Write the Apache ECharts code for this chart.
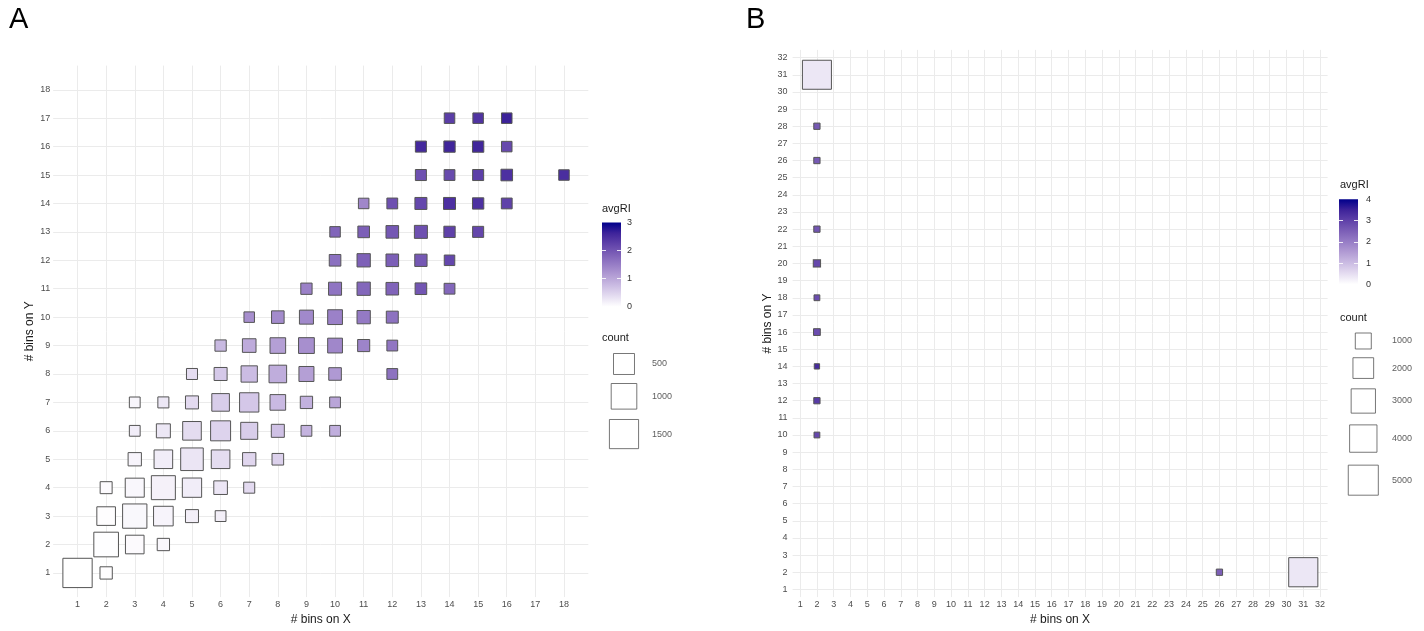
<!DOCTYPE html>
<html><head><meta charset="utf-8">
<script src="https://cdn.jsdelivr.net/npm/echarts@6/dist/echarts.min.js"></script>
<style>html,body{margin:0;padding:0;background:#fff}#c{width:1424px;height:631px}</style>
</head><body><div id="c"></div>
<script>
// ---------- Panel A data (one entry per square) ----------
const aX = [1,2, 2,3,4, 2,3,4,5,6, 2,3,4,5,6,7, 3,4,5,6,7,8, 3,4,5,6,7,8,9,10, 3,4,5,6,7,8,9,10,
  5,6,7,8,9,10,12, 6,7,8,9,10,11,12, 7,8,9,10,11,12, 9,10,11,12,13,14, 10,11,12,13,14,
  10,11,12,13,14,15, 11,12,13,14,15,16, 13,14,15,16,18, 13,14,15,16, 14,15,16];
const aY = [1,1, 2,2,2, 3,3,3,3,3, 4,4,4,4,4,4, 5,5,5,5,5,5, 6,6,6,6,6,6,6,6, 7,7,7,7,7,7,7,7,
  8,8,8,8,8,8,8, 9,9,9,9,9,9,9, 10,10,10,10,10,10, 11,11,11,11,11,11, 12,12,12,12,12,
  13,13,13,13,13,13, 14,14,14,14,14,14, 15,15,15,15,15, 16,16,16,16, 17,17,17];
const aCount = [1520,25, 880,310,25, 310,840,385,41,4, 19,340,805,360,58,6, 49,310,655,310,49,13,
  4,71,310,415,207,41,4,4, 4,6,41,243,360,135,25,4, 6,41,169,243,108,31,4, 9,58,135,144,100,21,4,
  2,31,71,100,49,19, 9,41,49,31,13,4, 13,49,31,25,2, 2,13,31,41,9,6, 2,4,19,19,9,4,
  6,4,6,13,2, 6,9,9,2, 2,2,2];
const aAvgRI = [0.00,0.02, 0.01,0.05,0.09, 0.02,0.08,0.12,0.18,0.18, 0.05,0.09,0.15,0.20,0.28,0.41,
  0.12,0.20,0.29,0.39,0.45,0.51, 0.20,0.27,0.39,0.49,0.56,0.69,0.86,0.91,
  0.11,0.27,0.41,0.56,0.62,0.78,0.88,1.02, 0.38,0.60,0.75,0.93,1.09,1.16,1.64,
  0.79,0.95,1.09,1.28,1.38,1.42,1.59, 1.28,1.33,1.36,1.45,1.54,1.64,
  1.45,1.61,1.78,1.82,1.99,1.78, 1.66,1.85,1.87,1.96,2.18, 1.80,1.87,1.96,2.06,2.25,2.19,
  1.38,2.06,2.18,2.46,2.45,2.25, 2.06,2.13,2.28,2.46,2.49, 2.55,2.60,2.59,2.15, 2.29,2.42,2.64];
const aAxisLimits = [0.15, 18.85];
const aLegendCounts = [500, 1000, 1500];
const aColorLimits = [0, 3];

// ---------- Panel B data ----------
const bX = [2,2,2,2,2,2,2,2,2,2,26,31];
const bY = [31,28,26,22,20,18,16,14,12,10,2,2];
const bCount = [4600,22,22,22,56,11,37,4,22,11,22,4650];
const bAvgRI = [0.36,2.6,2.6,2.67,2.9,2.8,2.8,3.37,3.1,2.9,2.5,0.36];
const bAxisLimits = [0.55, 32.45];
const bLegendCounts = [1000, 2000, 3000, 4000, 5000];
const bColorLimits = [0, 4];

// ---------- styles ----------
const FONT = "'Liberation Sans', Arial, sans-serif";
const RAMP = ['#ffffff','#e5ddf1','#cbbce3','#b29cd4','#977dc6','#7c5fb7','#5f41a9','#3e239a','#00008b'];
const BORDER = '#555555';
const GRIDLINE = '#ebebeb';
const sizeA = c => 9.8 + 0.5 * Math.sqrt(c);
const sizeB = c => 4.6 + 0.36 * Math.sqrt(c);

const zip = (xs, ys, cs, rs) => xs.map((x, i) => [x, ys[i], cs[i], rs[i]]);
function keyOffsets(counts, sizeFn, factor) {
  const s = counts.map(c => sizeFn(c) + 1);
  const out = [0];
  for (let i = 1; i < s.length; i++) out.push(out[i - 1] + factor * (s[i - 1] + s[i]) / 2);
  return out;
}
const gradient = () => ({type:'linear', x:0, y:0, x2:0, y2:1,
  colorStops: RAMP.slice().reverse().map((c, i, arr) => ({offset: i / (arr.length - 1), color: c}))});

function mainX(gi, lim, name, gap) {
  return {gridIndex: gi, type:'value', min: lim[0], max: lim[1], splitNumber: 40, minInterval: 1, maxInterval: 1,
    axisLine:{show:false}, axisTick:{show:false},
    splitLine:{show:true, showMinLine:false, showMaxLine:false, lineStyle:{color:GRIDLINE, width:1}},
    axisLabel:{fontSize:9, color:'#4d4d4d', fontFamily:FONT, margin:3, showMinLabel:false, showMaxLabel:false},
    name, nameLocation:'middle', nameGap: gap, nameTextStyle:{fontSize:12, color:'#1a1a1a', fontFamily:FONT}};
}
function mainY(gi, lim, name, gap, margin) {
  const o = mainX(gi, lim, name, gap);
  o.axisLabel.margin = margin;
  o.nameRotate = 90;
  return o;
}
function hiddenAxis(gi, max, inverse) {
  return {gridIndex: gi, type:'value', min:0, max, show:false, inverse: !!inverse};
}
function colorbarX(gi) { return {gridIndex: gi, type:'category', data:[''], show:false}; }
function colorbarY(gi, lim, margin) {
  return {gridIndex: gi, type:'value', min: lim[0], max: lim[1], interval: 1, position:'right', z: 3,
    axisLine:{show:false}, axisTick:{show:false},
    splitLine:{show:true, showMinLine:false, showMaxLine:false, lineStyle:{color:'rgba(255,255,255,0.85)', width:1, type:[4,11]}},
    axisLabel:{fontSize:9, color:'#333', fontFamily:FONT, margin}};
}

const aOff = keyOffsets(aLegendCounts, sizeA, 1.33);
const bOff = keyOffsets(bLegendCounts, sizeB, 1.4);

const option = {
  animation: false,
  backgroundColor: '#ffffff',
  title: [
    {text:'A', left: 9, top: 5, padding: 0, textStyle:{fontSize:29, fontWeight:'normal', color:'#000', fontFamily:FONT}},
    {text:'B', left: 746, top: 5, padding: 0, textStyle:{fontSize:29, fontWeight:'normal', color:'#000', fontFamily:FONT}},
    {text:'avgRI', left: 602, top: 203, padding: 0, textStyle:{fontSize:11, fontWeight:'normal', color:'#1a1a1a', fontFamily:FONT}},
    {text:'count', left: 602, top: 332, padding: 0, textStyle:{fontSize:11, fontWeight:'normal', color:'#1a1a1a', fontFamily:FONT}},
    {text:'avgRI', left: 1340, top: 179, padding: 0, textStyle:{fontSize:11, fontWeight:'normal', color:'#1a1a1a', fontFamily:FONT}},
    {text:'count', left: 1340, top: 312, padding: 0, textStyle:{fontSize:11, fontWeight:'normal', color:'#1a1a1a', fontFamily:FONT}}
  ],
  grid: [
    {left: 53.2, top: 65.6, width: 535.1, height: 534.5},
    {left: 600, top: 330, width: 100, height: 140},
    {left: 602, top: 222.5, width: 19, height: 84.2},
    {left: 792.6, top: 49.9, width: 535, height: 552.7},
    {left: 1330, top: 320, width: 94, height: 190},
    {left: 1339, top: 199.3, width: 19, height: 85}
  ],
  xAxis: [
    mainX(0, aAxisLimits, '# bins on X', 15),
    hiddenAxis(1, 100),
    colorbarX(2),
    mainX(3, bAxisLimits, '# bins on X', 15),
    hiddenAxis(4, 94),
    colorbarX(5)
  ],
  yAxis: [
    mainY(0, aAxisLimits, '# bins on Y', 18, 3),
    hiddenAxis(1, 140, true),
    colorbarY(2, aColorLimits, 6),
    mainY(3, bAxisLimits, '# bins on Y', 19, 5),
    hiddenAxis(4, 190, true),
    colorbarY(5, bColorLimits, 8)
  ],
  visualMap: [
    {type:'continuous', show:false, seriesIndex:0, dimension:3, min:aColorLimits[0], max:aColorLimits[1], inRange:{color:RAMP}},
    {type:'continuous', show:false, seriesIndex:4, dimension:3, min:bColorLimits[0], max:bColorLimits[1], inRange:{color:RAMP}}
  ],
  series: [
    {type:'scatter', xAxisIndex:0, yAxisIndex:0, symbol:'rect', data: zip(aX, aY, aCount, aAvgRI),
      symbolSize: v => sizeA(v[2]), itemStyle:{borderColor:BORDER, borderWidth:1, opacity:1}, emphasis:{disabled:true}, silent:true},
    {type:'scatter', xAxisIndex:1, yAxisIndex:1, symbol:'rect', data: aLegendCounts.map((c, i) => [24, 34 + aOff[i], c]),
      symbolSize: v => sizeA(v[2]), itemStyle:{color:'#fff', borderColor:BORDER, borderWidth:1}, silent:true},
    {type:'scatter', xAxisIndex:1, yAxisIndex:1, symbolSize:0, data: aLegendCounts.map((c, i) => [52, 34 + aOff[i], c]),
      label:{show:true, position:'right', distance:0, formatter: p => String(p.value[2]), fontSize:9, color:'#333', fontFamily:FONT}, silent:true},
    {type:'bar', xAxisIndex:2, yAxisIndex:2, data:[aColorLimits[1]], barWidth:'100%', itemStyle:{color: gradient()}, silent:true},

    {type:'scatter', xAxisIndex:3, yAxisIndex:3, symbol:'rect', data: zip(bX, bY, bCount, bAvgRI),
      symbolSize: v => sizeB(v[2]), itemStyle:{borderColor:BORDER, borderWidth:1, opacity:1}, emphasis:{disabled:true}, silent:true},
    {type:'scatter', xAxisIndex:4, yAxisIndex:4, symbol:'rect', data: bLegendCounts.map((c, i) => [33.3, 21 + bOff[i], c]),
      symbolSize: v => sizeB(v[2]), itemStyle:{color:'#fff', borderColor:BORDER, borderWidth:1}, silent:true},
    {type:'scatter', xAxisIndex:4, yAxisIndex:4, symbolSize:0, data: bLegendCounts.map((c, i) => [62, 21 + bOff[i], c]),
      label:{show:true, position:'right', distance:0, formatter: p => String(p.value[2]), fontSize:9, color:'#333', fontFamily:FONT}, silent:true},
    {type:'bar', xAxisIndex:5, yAxisIndex:5, data:[bColorLimits[1]], barWidth:'100%', itemStyle:{color: gradient()}, silent:true}
  ]
};
const chart = echarts.init(document.getElementById('c'), null, {renderer:'canvas'});
chart.setOption(option);
</script>
</body></html>
